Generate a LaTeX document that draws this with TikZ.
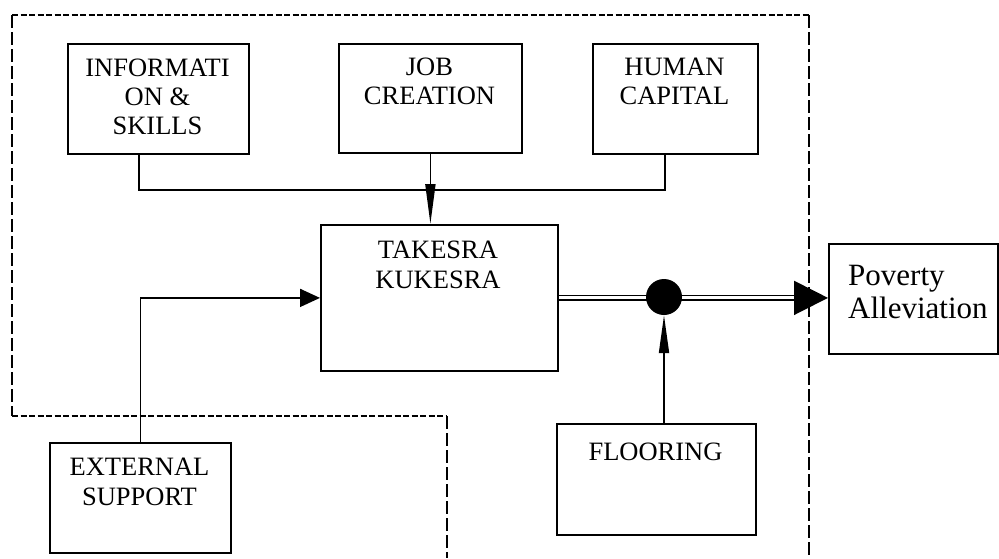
\documentclass[tikz,border=0pt]{standalone}
\usepackage{fontspec}
\setmainfont{Liberation Serif}
\usetikzlibrary{arrows.meta,calc}

\begin{document}
\begin{tikzpicture}[x=1pt,y=-1pt,
  box/.style={draw, line width=1.8pt, inner sep=0pt, anchor=north west},
  lbl/.style={font=\fontsize{26.5}{29}\selectfont, align=center, inner sep=0pt, anchor=north},
  wire/.style={line width=1.8pt},
  hdash/.style={line width=1.8pt, dash pattern=on 6pt off 2.5pt},
  vdash/.style={line width=1.8pt, dash pattern=on 13pt off 4pt},
]
\useasboundingbox (0,0) rectangle (999,558);

% dashed system boundary
\draw[hdash] (12,15) -- (809,15);
\draw[vdash] (12,15) -- (12,416);
\draw[hdash] (12,416) -- (447,416);
\draw[vdash] (447,416) -- (447,558);
\draw[vdash] (809,15) -- (809,558);

% boxes
\node[box, minimum width=181pt, minimum height=110pt] (info)  at (67,43)  {};
\node[box, minimum width=183pt, minimum height=109pt] (job)   at (338,43) {};
\node[box, minimum width=165pt, minimum height=110pt] (human) at (592,43) {};
\node[box, minimum width=237pt, minimum height=146pt] (tk)    at (320,224) {};
\node[box, minimum width=169pt, minimum height=110pt] (pov)   at (828,243) {};
\node[box, minimum width=181pt, minimum height=110pt] (ext)   at (49,442) {};
\node[box, minimum width=199pt, minimum height=111pt] (flo)   at (556,423) {};

% labels
\node[lbl] (infoT)  at (157.5,58.5) {INFORMATI\\ON \&\\SKILLS};
\node[lbl] (jobT)   at (429.5,57.5) {JOB\\CREATION};
\node[lbl] (humanT) at (674.5,57.5) {HUMAN\\CAPITAL};
\node[lbl, font=\fontsize{26.5}{30}\selectfont] (tkT) at (438,240.5) {TAKESRA\\KUKESRA};
\node[lbl, font=\fontsize{26.5}{30}\selectfont] (extT) at (139.5,457.5) {EXTERNAL\\SUPPORT};
\node[lbl] (floT)   at (655.5,442.5) {FLOORING};
\node[lbl, anchor=north west, align=left, font=\fontsize{31}{33}\selectfont] (povT) at (848,264.5) {Poverty\\Alleviation};

% inputs joined into one line
\coordinate (infoOut)  at ($(info.south west)+(72,0)$);
\coordinate (humanOut) at ($(human.south west)+(73,0)$);
\draw[wire] (infoOut) |- ++(0,35) -| (humanOut);
\draw[wire, -{Triangle[length=40pt,width=10pt]}] (job.south) -- (job.south |- tk.north);

% external support
\draw[wire, -{Triangle[length=20pt,width=18pt]}] (ext.north) |- (tk.west);

% output line
\coordinate (povIn) at (tk.east -| pov.west);
\coordinate (dblEnd) at ($(povIn)+(-30,0)$);
\draw[line width=1.4pt, double, double distance=3pt] (tk.east) -- (dblEnd);
\draw[wire, -{Triangle[length=34pt,width=34pt]}] ($(povIn)+(-34,0)$) -- (povIn);
\node[circle, fill, minimum size=36pt, inner sep=0pt] (dot) at (664,297) {};

% flooring
\draw[wire, -{Triangle[length=38pt,width=10pt]}] (dot |- flo.north) -- (dot.south);
\end{tikzpicture}
\end{document}
